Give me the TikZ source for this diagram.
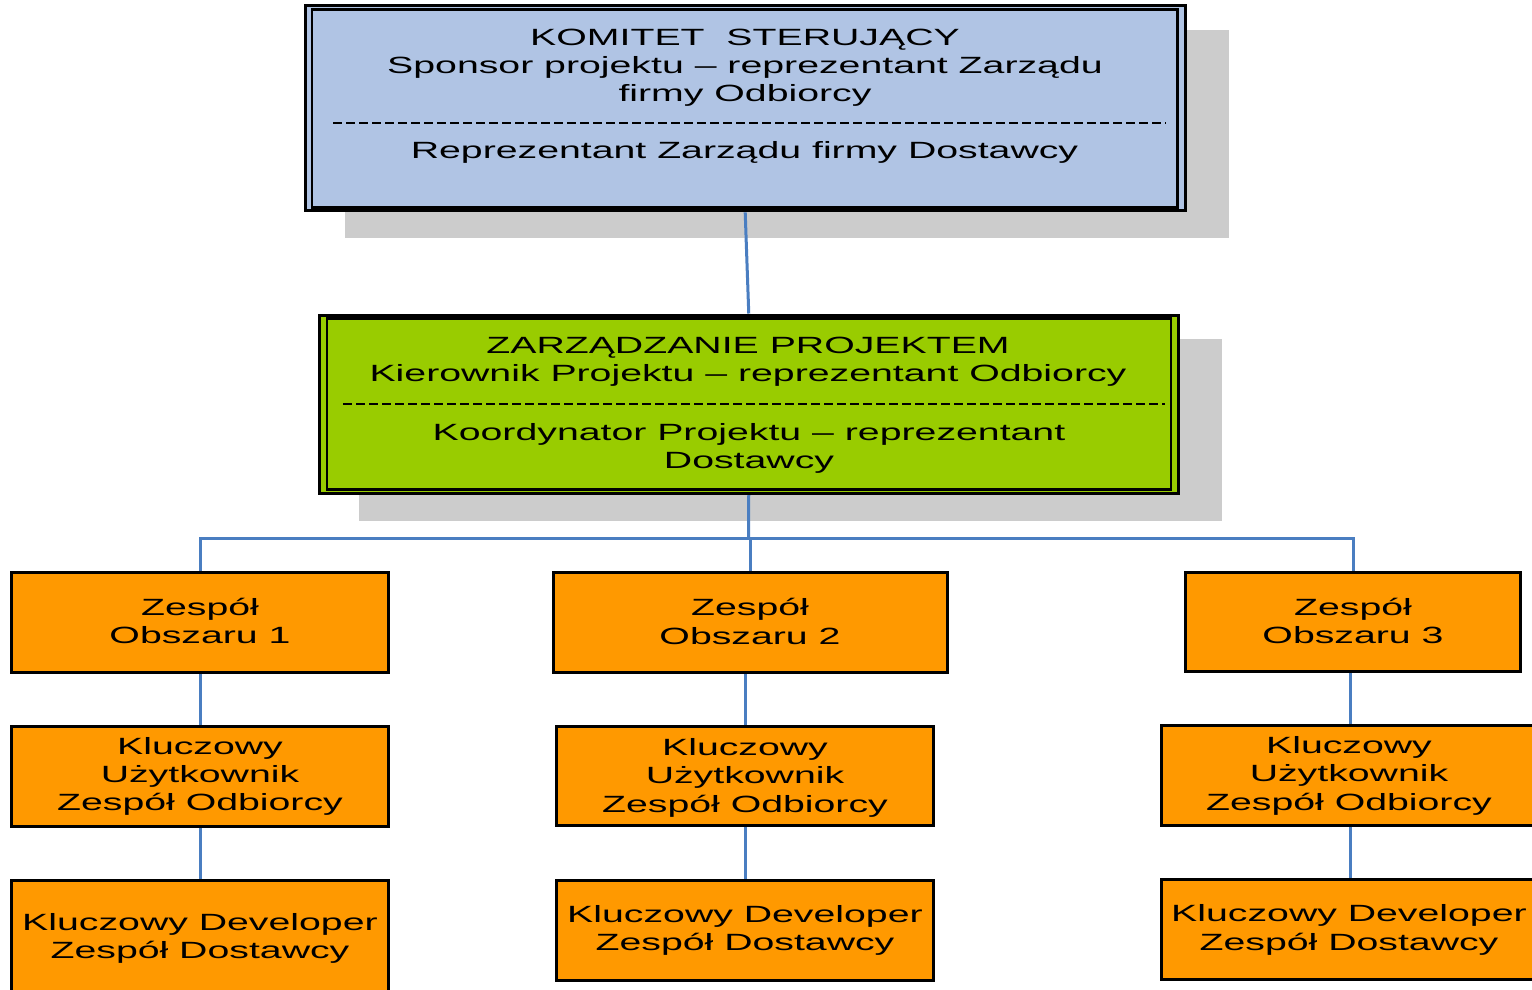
\documentclass[tikz,border=0pt]{standalone}
\usepackage{fontspec}
\newfontfamily\wfont{Liberation Sans}[FakeStretch=1.67]
\usetikzlibrary{calc}
\definecolor{boxblue}{RGB}{176,196,228}
\definecolor{boxgreen}{RGB}{153,204,0}
\definecolor{boxorange}{RGB}{255,153,0}
\definecolor{shadowgray}{RGB}{204,204,204}
\definecolor{connblue}{RGB}{74,126,193}
\pgfdeclarelayer{shadowlayer}
\pgfdeclarelayer{connlayer}
\pgfsetlayers{shadowlayer,connlayer,main}
\begin{document}
\begin{tikzpicture}[x=1pt,y=-1pt,
  headbox/.style={draw=black,line width=3pt,inner sep=0pt},
  innerline/.style={draw=black,line width=2.6pt},
  obox/.style={draw=black,line width=3pt,fill=boxorange,inner sep=0pt},
  txt/.style={font=\wfont\fontsize{23.5pt}{28.3pt}\selectfont,align=center,inner sep=0pt,anchor=base},
  conn/.style={draw=connblue,line width=3pt},
  sepline/.style={draw=black,line width=2.2pt,dash pattern=on 9pt off 4pt}]
\useasboundingbox (0,0) rectangle (1532,990);
\begin{pgfonlayer}{shadowlayer}
\fill[white] (0,0) rectangle (1532,990);
\fill[shadowgray] (345,30) rectangle (1229,238);
\fill[shadowgray] (359,338.5) rectangle (1222,520.5);
\end{pgfonlayer}

% top box
\node[headbox,fill=boxblue,minimum width=880.3pt,minimum height=205pt] (top) at (745.2,108.3) {};
\draw[innerline] ([shift={(8.5pt,-5pt)}]top.north west) rectangle ([shift={(-9.5pt,5pt)}]top.south east);
\draw[sepline] (333,123.3) -- (1166,123.3);
\node[txt] (toptxt) at (745,101.6) {KOMITET\ \ STERUJĄCY\\Sponsor projektu – reprezentant Zarządu\\firmy Odbiorcy};
\node[txt] (toptxtb) at (744.5,158.3) {Reprezentant Zarządu firmy Dostawcy};

% middle box
\node[headbox,fill=boxgreen,minimum width=859.5pt,minimum height=178pt] (mid) at (748.75,404) {};
\draw[innerline] ([shift={(9.3pt,-5pt)}]mid.north west) rectangle ([shift={(-9pt,5pt)}]mid.south east);
\draw[sepline] (343,404) -- (1165,404);
\node[txt] (midtxt) at (748,381.6) {ZARZĄDZANIE PROJEKTEM\\Kierownik Projektu – reprezentant Odbiorcy};
\node[txt] (midtxtb) at (749,468.3) {Koordynator Projektu – reprezentant\\Dostawcy};

% column 1
\node[obox,minimum width=377pt,minimum height=100pt] (z1) at (200,622.5) {};
\node[obox,minimum width=377pt,minimum height=100pt] (k1) at (200,776.5) {};
\node[obox,minimum width=377pt,minimum height=121pt] (d1) at (200,941) {};
\node[txt] (z1t) at (200,643.3) {Zespół\\Obszaru 1};
\node[txt] (k1t) at (200,810.7) {Kluczowy\\Użytkownik\\Zespół Odbiorcy};
\node[txt] (d1t) at (200,958.3) {Kluczowy Developer\\Zespół Dostawcy};

% column 2
\node[obox,minimum width=394.5pt,minimum height=100.5pt] (z2) at (750.3,622.3) {};
\node[obox,minimum width=377.5pt,minimum height=99.5pt] (k2) at (745,776) {};
\node[obox,minimum width=377.5pt,minimum height=100.5pt] (d2) at (745,930.6) {};
\node[txt] (z2t) at (750,644) {Zespół\\Obszaru 2};
\node[txt] (k2t) at (745,812) {Kluczowy\\Użytkownik\\Zespół Odbiorcy};
\node[txt] (d2t) at (745,950.7) {Kluczowy Developer\\Zespół Dostawcy};

% column 3
\node[obox,minimum width=335.5pt,minimum height=99.5pt] (z3) at (1353,622.2) {};
\node[obox,minimum width=377.5pt,minimum height=100pt] (k3) at (1350,775.5) {};
\node[obox,minimum width=377.5pt,minimum height=100pt] (d3) at (1350,929.5) {};
\node[txt] (z3t) at (1353,643.3) {Zespół\\Obszaru 3};
\node[txt] (k3t) at (1349,810) {Kluczowy\\Użytkownik\\Zespół Odbiorcy};
\node[txt] (d3t) at (1349,950) {Kluczowy Developer\\Zespół Dostawcy};

% connectors
\coordinate (bus) at (748.5,538.5);
\begin{pgfonlayer}{connlayer}
\draw[conn] (top.south) -- (mid.north);
\draw[conn] (mid.south) -- (bus);
\draw[conn] (z1.north) |- (bus) -| (z3.north);
\draw[conn] (z2.north) -- (z2.north |- bus);
\draw[conn] (z1.south) -- (k1.north);
\draw[conn] (k1.south) -- (d1.north);
\draw[conn] (k2.north |- z2.south) -- (k2.north);
\draw[conn] (k2.south) -- (d2.north);
\draw[conn] (k3.north |- z3.south) -- (k3.north);
\draw[conn] (k3.south) -- (d3.north);
\end{pgfonlayer}
\end{tikzpicture}
\end{document}
